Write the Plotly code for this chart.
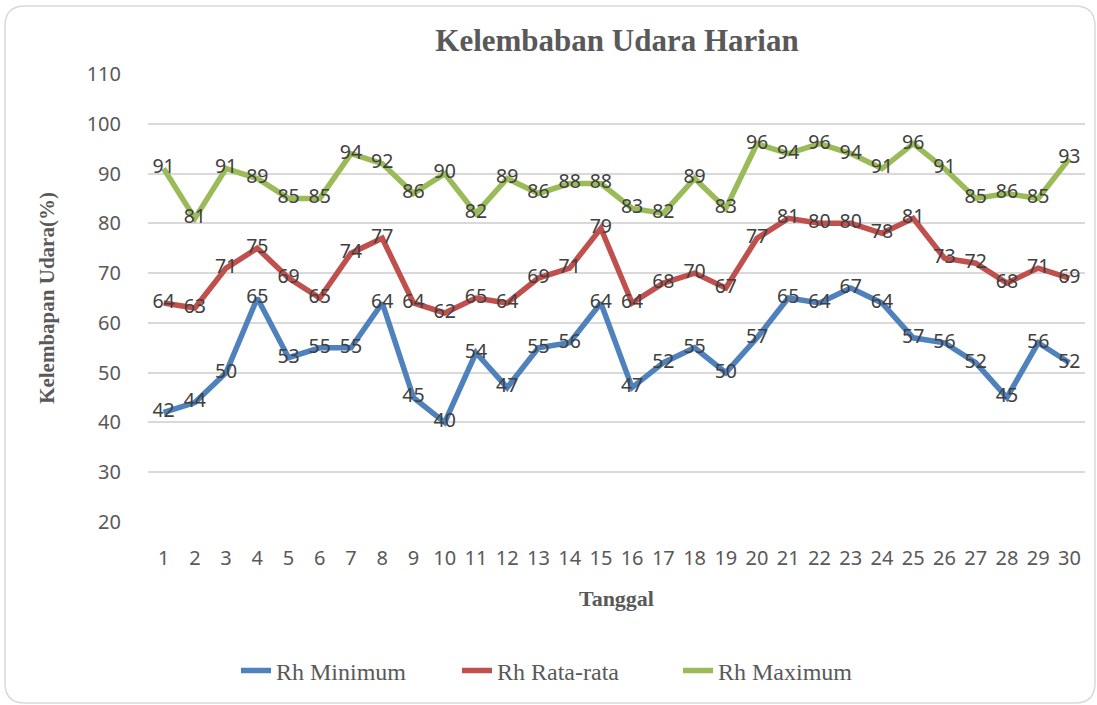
import plotly.graph_objects as go

tanggal = list(range(1, 31))
rh_min = [42, 44, 50, 65, 53, 55, 55, 64, 45, 40, 54, 47, 55, 56, 64, 47, 52, 55, 50, 57,
          65, 64, 67, 64, 57, 56, 52, 45, 56, 52]
rh_avg = [64, 63, 71, 75, 69, 65, 74, 77, 64, 62, 65, 64, 69, 71, 79, 64, 68, 70, 67, 77,
          81, 80, 80, 78, 81, 73, 72, 68, 71, 69]
rh_max = [91, 81, 91, 89, 85, 85, 94, 92, 86, 90, 82, 89, 86, 88, 88, 83, 82, 89, 83, 96,
          94, 96, 94, 91, 96, 91, 85, 86, 85, 93]

series = [
    ("Rh Minimum", rh_min, "#4F81BD"),
    ("Rh Rata-rata", rh_avg, "#C0504D"),
    ("Rh Maximum", rh_max, "#9BBB59"),
]

fig = go.Figure()
for name, vals, color in series:
    fig.add_trace(go.Scatter(
        x=tanggal, y=vals, name=name, mode="lines+text",
        line=dict(color=color, width=5.5),
        text=[str(v) for v in vals], textposition="middle center",
        textfont=dict(family="Noto Sans", size=19.5, color="#404040"),
        cliponaxis=False,
    ))

W, H = 1097, 705
ml, mr, mt, mb = 148, 12, 74, 183
pw, ph = W - ml - mr, H - mt - mb

def P(x, y):
    return f"{(x - ml) / pw:.5f},{(H - mb - y) / ph:.5f}"

# rounded chart border
x0, y0, x1, y1, r = 5, 6, 1095, 703, 20
path = (f"M {P(x0 + r, y0)} L {P(x1 - r, y0)} Q {P(x1, y0)} {P(x1, y0 + r)} "
        f"L {P(x1, y1 - r)} Q {P(x1, y1)} {P(x1 - r, y1)} "
        f"L {P(x0 + r, y1)} Q {P(x0, y1)} {P(x0, y1 - r)} "
        f"L {P(x0, y0 + r)} Q {P(x0, y0)} {P(x0 + r, y0)} Z")
fig.add_shape(type="path", path=path, xref="paper", yref="paper",
              line=dict(color="#D9D9D9", width=1.5), layer="below")

fig.update_layout(
    width=W, height=H,
    margin=dict(l=ml, r=mr, t=mt, b=mb),
    paper_bgcolor="white", plot_bgcolor="white",
    title=dict(text="<b>Kelembaban Udara Harian</b>", x=617 / W, xanchor="center",
               y=1 - 40 / H, yanchor="middle",
               font=dict(family="Liberation Serif", size=31, color="#595959")),
    xaxis=dict(range=[0.5, 30.5], tickmode="array", tickvals=tanggal,
               ticktext=[str(t) for t in tanggal],
               showgrid=False, zeroline=False, showline=False,
               ticks="outside", ticklen=18, tickcolor="rgba(0,0,0,0)",
               tickfont=dict(family="Noto Sans", size=20, color="#595959"),
               title=dict(text="<b>Tanggal</b>", standoff=20,
                          font=dict(family="Liberation Serif", size=22, color="#595959"))),
    yaxis=dict(range=[20, 110], dtick=10, tick0=20,
               showgrid=True, gridcolor="#D9D9D9", gridwidth=1.5,
               zeroline=False, showline=False,
               ticks="outside", ticklen=22, tickcolor="rgba(0,0,0,0)",
               tickfont=dict(family="Noto Sans", size=20, color="#595959"),
               title=dict(text="<b>Kelembapan Udara(%)</b>", standoff=26,
                          font=dict(family="Liberation Serif", size=21, color="#595959"))),
    legend=dict(orientation="h", x=(236 - ml) / pw, xanchor="left",
                y=-(671 - (H - mb)) / ph, yanchor="middle",
                font=dict(family="Liberation Serif", size=24, color="#595959"),
                entrywidth=176, entrywidthmode="pixels"),
    showlegend=True,
)

fig.write_html("out.html", post_script="document.body.style.margin='0';",
               config={"displayModeBar": False})
